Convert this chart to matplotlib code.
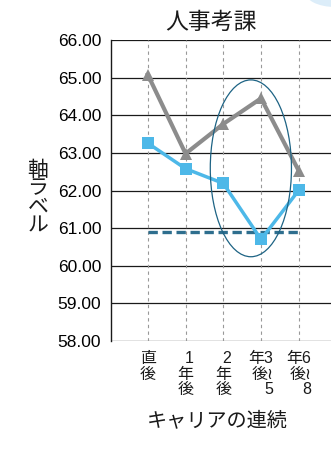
import matplotlib.pyplot as plt
from matplotlib.patches import Ellipse
import numpy as np

plt.rcParams['font.family'] = ['Liberation Sans', 'Noto Sans CJK JP', 'DejaVu Sans']

# career stage categories (labels written vertically)
categories = ["直\n後", "1\n年\n後", "2\n年\n後", "年3\n後≀\n5", "年6\n後≀\n8"]
eval_gray = [65.08, 62.98, 63.77, 64.45, 62.52]
eval_blue = [63.26, 62.58, 62.19, 60.70, 62.01]
baseline = 60.90
yticks = np.arange(58, 66.01, 1.0)

title = "人事考課"
xlabel = "キャリアの連続"
ylabel = "軸ラベル"

fig = plt.figure(figsize=(3.31, 4.72), dpi=100)
ax = fig.add_axes([0.3353, 0.2775, 0.75, 0.6377])

x = np.arange(len(categories))
ax.set_xlim(-0.975, 5.6)
ax.set_ylim(58, 66)

# grid: solid horizontal, dashed vertical at each category
for yv in yticks:
    ax.axhline(yv, color='#1a1a1a', lw=0.9, zorder=1)
for xv in x:
    ax.axvline(xv, color='#999999', lw=0.8, ls=(0, (3, 3)), zorder=1)

ax.plot(x, eval_gray, color='#8c8c8c', lw=3, marker='^', ms=9,
        markeredgewidth=0, zorder=3)
ax.plot(x, eval_blue, color='#4db8e8', lw=2.5, marker='s', ms=9,
        markeredgewidth=0, zorder=4)
ax.plot([x[0], x[-1]], [baseline, baseline], color='#2e6e8e', lw=2.4,
        ls=(0, (2.8, 1.4)), zorder=2)

ell = Ellipse((2.73, 62.59), 2.15, 4.70, fill=False, edgecolor='#1d6384',
              lw=0.9, zorder=5)
ax.add_patch(ell)

for s in ['right', 'top', 'bottom']:
    ax.spines[s].set_visible(False)
ax.spines['left'].set_color('#1a1a1a')
ax.spines['left'].set_linewidth(1.0)

ax.set_yticks(yticks)
ax.set_yticklabels([f"{v:.2f}" for v in yticks], fontsize=12.5)
ax.tick_params(axis='y', length=0, pad=7)
ax.set_xticks(x)
ax.set_xticklabels([])
ax.tick_params(axis='x', length=0)

for xv, lab in zip(x, categories):
    ax.text(xv, 57.73, lab, ha='center', va='top', fontsize=11.5,
            linespacing=1.05, multialignment='right', color='#1a1a1a')

fig.text(211 / 331, 1 - 22 / 472, title, ha='center', va='center',
         fontsize=16.5, color='#1a1a1a')
fig.text(217 / 331, 1 - 421 / 472, xlabel, ha='center', va='center',
         fontsize=14.5, color='#1a1a1a')
fig.text(38 / 331, 1 - 198 / 472, "\n".join(ylabel), ha='center', va='center',
         fontsize=15, linespacing=0.95, color='#1a1a1a')

# pale badge peeking in at the top right corner
fig.patches.append(Ellipse((335 / 331, 1 + 8 / 472), 60 / 331, 30 / 472,
                           transform=fig.transFigure, facecolor='#dcedf9',
                           edgecolor='none'))

fig.savefig('out.png', dpi=100)
